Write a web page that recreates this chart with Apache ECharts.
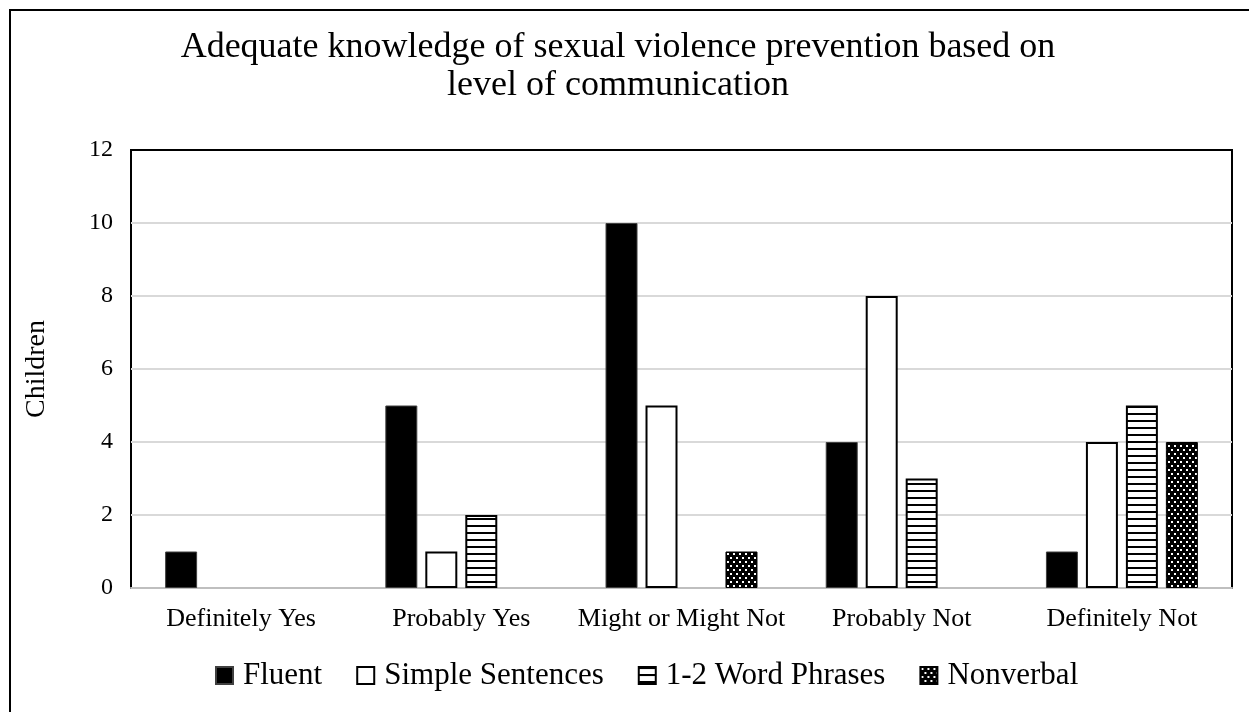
<!DOCTYPE html>
<html>
<head>
<meta charset="utf-8">
<script src="https://cdn.jsdelivr.net/npm/echarts@6/dist/echarts.min.js"></script>
<style>
html,body{margin:0;padding:0;background:#fff;}
#c{width:1249px;height:712px;}
</style>
</head>
<body>
<div id="c"></div>
<script>
const categories = ['Definitely Yes', 'Probably Yes', 'Might or Might Not', 'Probably Not', 'Definitely Not'];
const fluent = [1, 5, 10, 4, 1];
const simpleSentences = [0, 1, 5, 8, 4];
const wordPhrases = [0, 2, 0, 3, 5];
const nonverbal = [0, 0, 1, 0, 4];
const yTicks = [0, 2, 4, 6, 8, 10, 12];

function linesPattern() {
  const c = document.createElement('canvas');
  c.width = 8; c.height = 7;
  const g = c.getContext('2d');
  g.fillStyle = '#fff'; g.fillRect(0, 0, 8, 7);
  g.fillStyle = '#000'; g.fillRect(0, 0, 8, 2);
  return c;
}
function dotsPattern() {
  const c = document.createElement('canvas');
  c.width = 6; c.height = 8;
  const g = c.getContext('2d');
  g.fillStyle = '#000'; g.fillRect(0, 0, 6, 8);
  g.fillStyle = '#fff';
  g.fillRect(1, 1, 2, 2);
  g.fillRect(4, 5, 2, 2);
  return c;
}

const font = '"Liberation Serif", "Times New Roman", serif';
const chart = echarts.init(document.getElementById('c'));
const valOf = v => v === 0 ? null : v;
chart.setOption({
  animation: false,
  textStyle: { fontFamily: font, color: '#000' },
  title: {
    text: 'Adequate knowledge of sexual violence prevention based on\nlevel of communication',
    left: 613, top: 24, textAlign: 'center',
    textStyle: { fontFamily: font, fontSize: 36, fontWeight: 'normal', color: '#000', lineHeight: 38 }
  },
  graphic: [{
    type: 'rect', shape: { x: 10, y: 10, width: 1400, height: 900 },
    style: { fill: 'none', stroke: '#000', lineWidth: 2 }, z: 100
  }],
  legend: {
    bottom: 16, left: 210,
    itemWidth: 17, itemHeight: 17, itemGap: 34,
    icon: 'rect',
    textStyle: { fontFamily: font, fontSize: 31, color: '#000', padding: [0, 0, 0, 5] },
    data: ['Fluent', 'Simple Sentences', '1-2 Word Phrases', 'Nonverbal']
  },
  grid: {
    left: 131, right: 17, top: 150, bottom: 124,
    show: true, borderColor: '#000', borderWidth: 2
  },
  xAxis: {
    type: 'category', data: categories,
    axisLine: { lineStyle: { color: '#bfbfbf', width: 2 } },
    axisTick: { show: false },
    axisLabel: { fontFamily: font, fontSize: 26, color: '#000', margin: 18, interval: 0 }
  },
  yAxis: {
    type: 'value', min: 0, max: 12, interval: 2,
    name: 'Children', nameLocation: 'middle', nameGap: 80,
    nameTextStyle: { fontFamily: font, fontSize: 28, color: '#000' },
    axisLine: { show: false },
    axisTick: { show: false },
    axisLabel: { fontFamily: font, fontSize: 24, color: '#000', margin: 18,
      formatter: v => yTicks.includes(v) ? String(v) : '' },
    splitLine: { lineStyle: { color: ['#d9d9d9', '#d9d9d9', '#d9d9d9', '#d9d9d9', '#d9d9d9', '#d9d9d9', '#000'], width: 2 } }
  },
  series: [
    { name: 'Fluent', type: 'bar', data: fluent.map(valOf), barGap: '25%', barCategoryGap: '31%',
      itemStyle: { color: '#000', borderColor: '#404040', borderWidth: 1 } },
    { name: 'Simple Sentences', type: 'bar', data: simpleSentences.map(valOf),
      itemStyle: { color: '#fff', borderColor: '#000', borderWidth: 2 } },
    { name: '1-2 Word Phrases', type: 'bar', data: wordPhrases.map(valOf),
      itemStyle: { color: { image: linesPattern(), repeat: 'repeat' }, borderColor: '#000', borderWidth: 2 } },
    { name: 'Nonverbal', type: 'bar', data: nonverbal.map(valOf),
      itemStyle: { color: { image: dotsPattern(), repeat: 'repeat' }, borderColor: '#000', borderWidth: 1 } }
  ]
});
</script>
</body>
</html>
